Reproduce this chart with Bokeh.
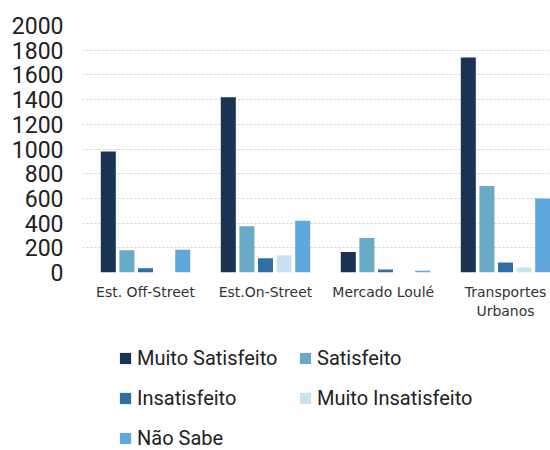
from bokeh.plotting import figure
from bokeh.layouts import column
from bokeh.models import (ColumnDataSource, Range1d, FixedTicker, Legend, LegendItem)
from bokeh.transform import dodge
from bokeh.embed import file_html
from bokeh.resources import INLINE

categories = ["Est. Off-Street", "Est.On-Street", "Mercado  Loulé", "Transportes\nUrbanos"]
series = ["Muito Satisfeito", "Satisfeito", "Insatisfeito", "Muito Insatisfeito", "Não Sabe"]
muito_satisfeito = [980, 1420, 165, 1740]
satisfeito = [180, 375, 280, 700]
insatisfeito = [35, 115, 25, 80]
muito_insatisfeito = [0, 140, 0, 40]
nao_sabe = [185, 420, 15, 600]
yticks = [0, 200, 400, 600, 800, 1000, 1200, 1400, 1600, 1800, 2000]

colors = ["#1b3352", "#69aac6", "#2f6ea6", "#c8e2f2", "#5fa8de"]
values = [muito_satisfeito, satisfeito, insatisfeito, muito_insatisfeito, nao_sabe]

x = list(range(len(categories)))
data = {"x": x}
keys = ["ms", "s", "i", "mi", "ns"]
for k, v in zip(keys, values):
    data[k] = v
source = ColumnDataSource(data)

p = figure(frame_width=468, frame_height=247, output_backend="svg", toolbar_location=None,
           x_range=Range1d(-0.525, 3.375), y_range=Range1d(0, 2000),
           min_border_left=82, min_border_right=0, min_border_top=25, min_border_bottom=58)
p.outline_line_color = None
p.background_fill_color = "white"

offsets = [-0.31, -0.155, 0.0, 0.155, 0.31]
for k, off, c in zip(keys, offsets, colors):
    p.vbar(x=dodge("x", off), top=k, width=0.125, source=source,
           fill_color=c, line_color=None)

p.xaxis.ticker = FixedTicker(ticks=x)
p.xaxis.major_label_overrides = {i: c for i, c in enumerate(categories)}
p.xaxis.axis_line_color = None
p.xaxis.major_tick_line_color = None
p.xaxis.minor_tick_line_color = None
p.xaxis.major_label_text_font = "DejaVu Sans"
p.xaxis.major_label_text_font_size = "14px"
p.xaxis.major_label_text_color = "#333333"
p.xaxis.major_label_standoff = 5

p.yaxis.ticker = FixedTicker(ticks=yticks)
p.yaxis.axis_line_color = None
p.yaxis.major_tick_line_color = None
p.yaxis.minor_tick_line_color = None
p.yaxis.major_label_text_font = "Roboto"
p.yaxis.major_label_text_font_size = "23px"
p.yaxis.major_label_text_color = "#222222"
p.yaxis.major_label_standoff = 13

p.xgrid.grid_line_color = None
p.ygrid.grid_line_color = "#d0d0d0"
p.ygrid.grid_line_dash = "2 2"

# legend panel (its own figure; ranges keep its swatch renderers entirely out of view)
lg = figure(width=550, height=120, output_backend="svg", toolbar_location=None,
            x_range=Range1d(100, 101), y_range=Range1d(10000, 10001),
            min_border=0, min_border_left=0, min_border_right=0,
            min_border_top=0, min_border_bottom=0)
lg.axis.visible = False
lg.grid.visible = False
lg.outline_line_color = None
swatches = {}
for s, k, c in zip(series, keys, colors):
    swatches[s] = lg.vbar(x="x", top=k, width=0.1, source=source,
                          fill_color=c, line_color=None)

# column-major fill -> order so rows read: MS, Sat / Insat, MuitoInsat / NaoSabe
legend_order = ["Muito Satisfeito", "Insatisfeito", "Não Sabe", "Satisfeito", "Muito Insatisfeito"]
items = [LegendItem(label=s, renderers=[swatches[s]]) for s in legend_order]
legend = Legend(items=items, ncols=2, orientation="vertical",
                location=(36, 0), label_text_font="Roboto", label_text_font_size="20px",
                label_text_color="#222222", glyph_width=14, glyph_height=14,
                label_standoff=5, spacing=16, label_height=20, label_width=145,
                border_line_color=None, background_fill_alpha=0, margin=0, padding=0)
lg.add_layout(legend, "center")

layout = column(p, lg, spacing=0)
open("out.html", "w").write(file_html(layout, INLINE))
